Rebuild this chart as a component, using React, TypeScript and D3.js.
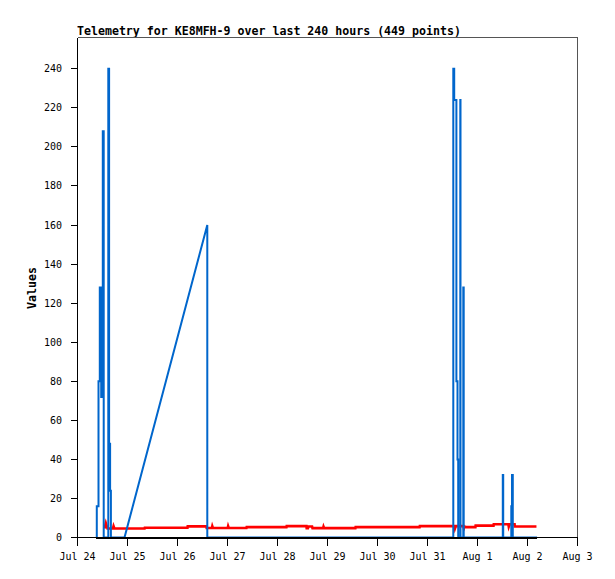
import React from "react";
import * as d3 from "d3";

const TITLE = "Telemetry for KE8MFH-9 over last 240 hours (449 points)";
const Y_LABEL = "Values";
const START = Date.UTC(2023, 6, 24); // Jul 24
const END = Date.UTC(2023, 7, 3); // Aug 3
const Y_MAX = 256;
const Y_TICKS = [0, 20, 40, 60, 80, 100, 120, 140, 160, 180, 200, 220, 240];

// [hours since Jul 24 00:00, value]
const blueSeries: [number, number][] = [
  [9.26, 0], [9.26, 16], [10.08, 16], [10.08, 80], [10.7, 80], [10.7, 128],
  [11.38, 128], [11.38, 72], [12.14, 72], [12.14, 208], [12.58, 208], [12.58, 0],
  [14.78, 0], [14.78, 240], [15.17, 240], [15.17, 48], [15.65, 48], [15.65, 24],
  [16.03, 24], [16.03, 0], [22.56, 0], [62.3, 160], [62.3, 0],
  [180.38, 0], [180.38, 240], [180.82, 240], [180.82, 224], [181.87, 224], [181.87, 80],
  [182.4, 80], [182.4, 40], [182.74, 40], [182.74, 0], [183.74, 0], [183.74, 224],
  [183.84, 224], [183.84, 0], [185.18, 0], [185.18, 128], [185.38, 128], [185.38, 0],
  [204.14, 0], [204.14, 32], [204.34, 32], [204.34, 0],
  [208.22, 0], [208.22, 16], [208.56, 16], [208.56, 32], [208.94, 32], [208.94, 0],
  [220.6, 0],
];

const redSeries: [number, number][] = [
  [12.96, 4.6], [13.6, 7.4], [14.4, 4.6], [17.0, 4.6], [17.3, 5.8], [17.7, 4.6],
  [32.2, 4.6], [32.3, 5.0], [52.8, 5.0], [52.9, 5.7], [61.9, 5.7], [62.0, 4.9],
  [64.5, 4.9], [64.7, 5.8], [65.0, 4.9], [72.1, 4.9], [72.3, 5.8], [72.6, 4.9],
  [81.1, 4.9], [81.2, 5.3], [100.3, 5.3], [100.4, 5.8], [109.9, 5.8], [110.0, 4.8],
  [110.6, 4.8], [110.8, 5.6], [112.6, 5.6], [112.8, 4.8], [117.9, 4.8], [118.1, 5.6],
  [118.4, 4.8], [133.4, 4.8], [133.5, 5.3], [164.2, 5.3], [164.3, 5.8], [181.0, 5.8],
  [181.2, 4.6], [181.6, 5.8], [185.3, 5.8], [185.5, 4.6], [185.9, 5.6], [186.7, 5.3],
  [191.0, 5.3], [191.1, 6.1], [199.7, 6.1], [199.8, 6.8], [206.8, 6.8], [207.0, 5.6],
  [207.4, 6.8], [209.8, 6.8], [209.9, 5.6], [220.3, 5.6],
];

const blackSeries: [number, number][] = [
  [9.1, 0], [220.6, 0],
];

const FONT = "'DejaVu Sans Mono', monospace";

export default function App() {
  const W = 615;
  const H = 579;
  const x = d3.scaleUtc().domain([new Date(START), new Date(END)]).range([77.5, 577.5]);
  const y = d3.scaleLinear().domain([0, Y_MAX]).range([537.5, 37.5]);
  const toDate = (h: number) => new Date(START + h * 3600e3);
  const line = d3
    .line<[number, number]>()
    .x((d) => x(toDate(d[0])))
    .y((d) => y(d[1]));
  const xTicks = x.ticks(d3.utcDay.every(1) as any);
  const fmt = d3.utcFormat("%b %-d");
  const [x0, x1] = x.range();
  const [yb, yt] = y.range();

  return (
    <svg
      width={W}
      height={H}
      style={{ position: "absolute", left: 0, top: 0, display: "block", background: "#fff" }}
    >
      <rect x={0} y={0} width={W} height={H} fill="#fff" />
      <text x={77} y={35} fontFamily={FONT} fontSize={11.6} fontWeight="bold" fill="#000">
        {TITLE}
      </text>
      {/* frame */}
      <line x1={x0} x2={x1} y1={yt} y2={yt} stroke="#555" strokeWidth={1} shapeRendering="crispEdges" />
      <line x1={x1} x2={x1} y1={yt} y2={yb} stroke="#555" strokeWidth={1} shapeRendering="crispEdges" />
      {/* data */}
      <path d={line(redSeries) || ""} fill="none" stroke="#ff0000" strokeWidth={2.6} strokeLinejoin="miter" />
      <path d={line(blueSeries) || ""} fill="none" stroke="#0066cc" strokeWidth={2} strokeLinejoin="miter" />
      <path d={line(blackSeries) || ""} fill="none" stroke="#000" strokeWidth={2} shapeRendering="crispEdges" />
      {/* axes */}
      <line x1={x0} x2={x0} y1={yt} y2={yb} stroke="#000" strokeWidth={1} shapeRendering="crispEdges" />
      <line x1={x0} x2={x1} y1={yb} y2={yb} stroke="#000" strokeWidth={1} shapeRendering="crispEdges" />
      {Y_TICKS.map((v) => (
        <g key={"y" + v}>
          <line x1={x0 - 7} x2={x0} y1={y(v)} y2={y(v)} stroke="#000" strokeWidth={1} shapeRendering="crispEdges" />
          <text x={62} y={y(v)} dy="0.35em" textAnchor="end" fontFamily={FONT} fontSize={10} fill="#000">
            {v}
          </text>
        </g>
      ))}
      {xTicks.map((t) => (
        <g key={"x" + t.getTime()}>
          <line x1={x(t)} x2={x(t)} y1={yb} y2={yb + 8} stroke="#000" strokeWidth={1} shapeRendering="crispEdges" />
          <text x={x(t)} y={560} textAnchor="middle" fontFamily={FONT} fontSize={10} fill="#000">
            {fmt(t)}
          </text>
        </g>
      ))}
      <text
        transform={`translate(36,288) rotate(-90)`}
        textAnchor="middle"
        fontFamily={FONT}
        fontSize={11.6}
        fontWeight="bold"
        fill="#000"
      >
        {Y_LABEL}
      </text>
    </svg>
  );
}
